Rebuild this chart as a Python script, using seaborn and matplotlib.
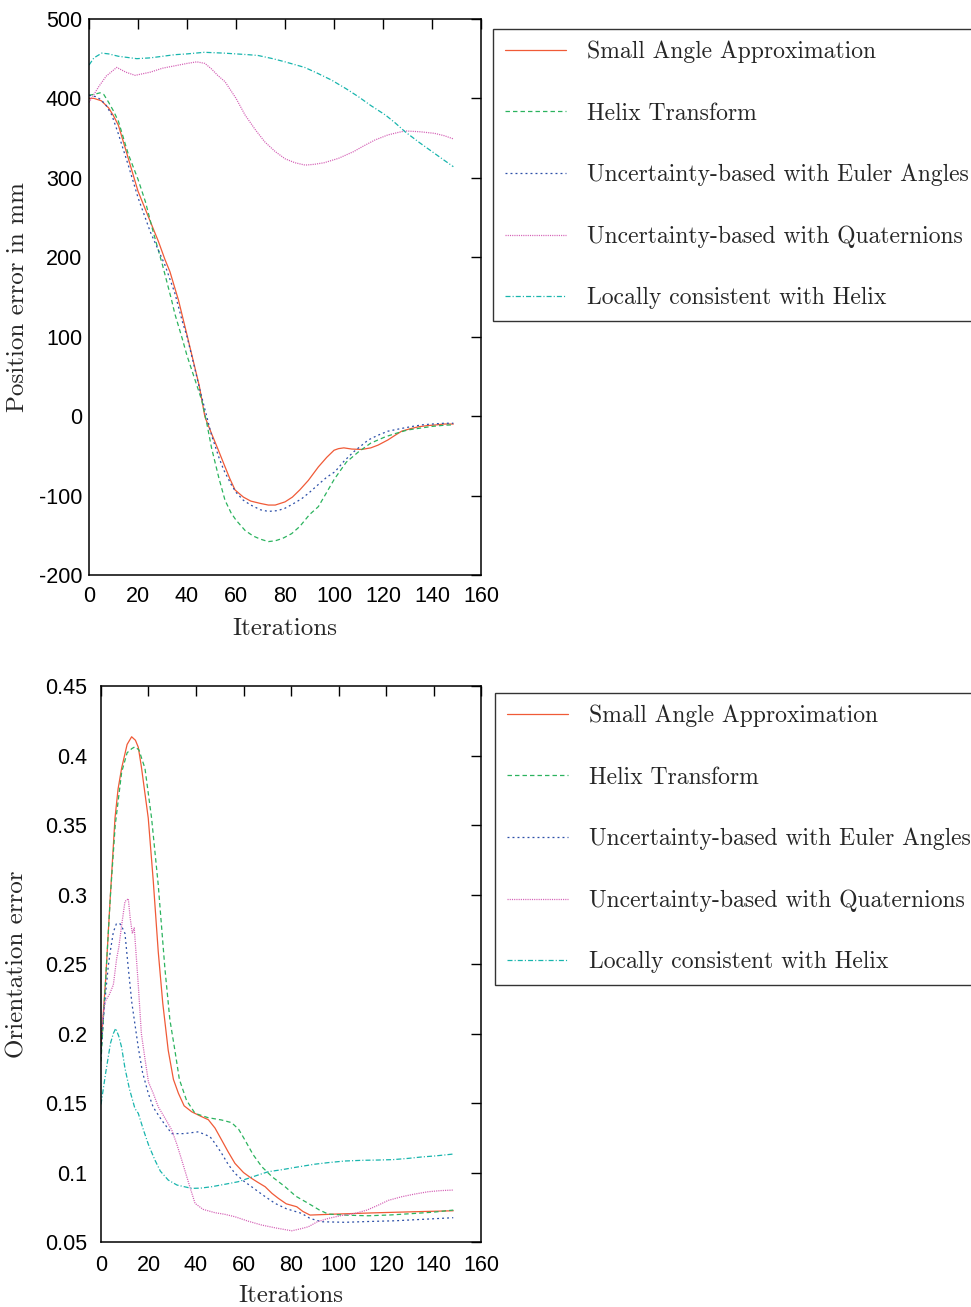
import matplotlib
matplotlib.use("Agg")
import matplotlib.pyplot as plt
from matplotlib.ticker import FuncFormatter, MultipleLocator
import seaborn as sns

# ---------------- position error (mm) ----------------
pos_small_x = [0, 2, 5, 8, 10, 12, 15, 20, 25, 28.3, 31, 33, 36.5, 40, 42.5, 45, 47.3, 50, 52.8, 55, 57.5, 59.6, 63, 66, 70, 73.2, 76, 80, 83, 86, 89.5, 93.6, 97, 100, 101.8, 104, 107.2, 111.3, 115, 118, 122, 125, 127.6, 131, 134.4, 138, 142, 145, 148.7]
pos_small_y = [400, 400, 397, 388, 378, 366, 335, 283, 245, 220, 197, 182, 146, 102, 70, 38, -1, -22, -43, -60, -79, -93, -102, -107, -110, -112, -112, -108, -102, -93, -81, -64, -52, -43, -41, -40, -41.5, -42, -40, -36.5, -30, -24, -19, -16, -13.5, -12, -11, -10, -10]

pos_helix_x = [0, 2, 4.5, 6, 8, 10, 12, 16, 20, 23, 26, 30, 33.7, 35, 38, 40, 43, 46, 48, 50, 53, 55.5, 58, 60, 63.7, 67, 70, 73.2, 76, 79, 82.7, 86, 90, 93.6, 97, 100, 101.8, 105, 110, 115, 121, 125, 130, 134.4, 140, 145, 148.7]
pos_helix_y = [404, 405, 407, 405, 395, 384, 371, 330, 298, 270, 234, 190, 146, 129, 98, 76, 48, 20, -8, -40, -78, -106, -122, -131, -144, -151, -155, -158, -157, -154, -148, -139, -124, -114, -96, -80, -72, -58, -45, -34, -26, -22, -17.5, -15.5, -13, -11.5, -11]

pos_euler_x = [0, 3, 5, 7, 9.3, 12, 16, 20, 25, 31, 35, 38, 40, 43, 45, 47, 50, 53, 55, 58, 60, 63, 66, 70, 73.2, 77, 80, 83, 86.8, 90, 94, 97, 100.4, 104, 108, 114, 118, 122, 127.6, 132, 136, 140, 145, 148.7]
pos_euler_y = [404, 402, 398, 391, 379, 355, 316, 275, 232, 190, 155, 120, 100, 62, 36, 12, -24, -52, -68, -86, -96, -106, -112, -118, -120, -119, -116, -111, -104, -96, -85, -77, -70, -57, -45, -30, -24, -19, -15.5, -13, -11, -10, -9, -9]

pos_quat_x = [0, 2, 4, 7, 11.3, 15, 18.8, 25, 30, 35, 40, 44, 47.3, 50, 52.5, 55.5, 60, 63.7, 68, 71.8, 76, 80, 84, 88.2, 92, 96, 101.8, 108, 112, 116.7, 122, 126, 129, 135, 141, 145, 148.7]
pos_quat_y = [395, 405, 415, 428, 439, 433, 429, 433, 438, 441, 444, 446, 444, 437, 429, 421, 400, 379, 360, 345, 333, 324, 319, 316, 317, 319, 324.5, 333, 340, 347.6, 354, 357, 359, 358, 356, 353, 349]

pos_local_x = [0, 2, 5.2, 8, 12, 19.5, 25, 30, 35, 40, 47, 55, 60, 65, 69, 75, 80, 88, 93, 99, 105, 110, 115, 121, 125, 129, 135, 140, 145, 148.7]
pos_local_y = [442, 451, 457, 456, 453, 450, 451, 453, 455, 456, 458, 457, 456, 455, 454, 450, 446, 439, 432, 423, 412, 402, 391, 379, 369, 358, 344, 333, 322, 314]

# ---------------- orientation error ----------------
ori_small_x = [0, 2, 3.8, 5.9, 7.2, 8.7, 11, 12.9, 14.5, 15.7, 17, 19.9, 22, 24.1, 26, 28.3, 30.5, 32.6, 35, 38.2, 42, 45.2, 48, 50.8, 53.5, 56.4, 60, 63.4, 66, 69.1, 72, 74.7, 78, 82.4, 85, 88, 98.5, 116.8, 132, 148.3]
ori_small_y = [0.19, 0.24, 0.295, 0.355, 0.376, 0.391, 0.408, 0.4135, 0.411, 0.406, 0.392, 0.355, 0.31, 0.259, 0.222, 0.188, 0.167, 0.157, 0.148, 0.1437, 0.1405, 0.138, 0.132, 0.1234, 0.115, 0.1066, 0.1, 0.0958, 0.093, 0.0898, 0.085, 0.0814, 0.0775, 0.0754, 0.072, 0.0694, 0.0701, 0.0711, 0.0718, 0.0725]

ori_helix_x = [0, 2, 4, 6, 8.7, 11, 13, 14.3, 16, 17.5, 18.5, 21.3, 24.1, 26.9, 29, 31.2, 33, 36, 39.6, 45, 50.8, 55, 58, 60.6, 64, 67.7, 72, 77.5, 82, 87.3, 92, 95.7, 104, 112.5, 122, 132.2, 140, 148.3]
ori_helix_y = [0.18, 0.24, 0.30, 0.35, 0.388, 0.402, 0.405, 0.4063, 0.404, 0.396, 0.391, 0.355, 0.307, 0.247, 0.21, 0.187, 0.167, 0.152, 0.1426, 0.1395, 0.1378, 0.1359, 0.131, 0.1234, 0.113, 0.1042, 0.097, 0.0898, 0.083, 0.0778, 0.073, 0.0701, 0.0693, 0.0689, 0.0695, 0.0706, 0.0715, 0.073]

ori_euler_x = [0, 1, 2, 3.1, 4, 5.2, 6.5, 8, 9, 10.1, 11.5, 13, 15.7, 17.5, 19.9, 22, 25.5, 29.8, 35, 41, 45.9, 48, 50.8, 53.5, 56.4, 60, 63.4, 68, 73.3, 78, 84.5, 88, 92.9, 102.7, 113, 123.8, 135, 148.3]
ori_euler_y = [0.185, 0.211, 0.23, 0.249, 0.26, 0.273, 0.279, 0.279, 0.276, 0.272, 0.247, 0.222, 0.19, 0.172, 0.157, 0.147, 0.1378, 0.128, 0.128, 0.1293, 0.1258, 0.121, 0.1138, 0.106, 0.0994, 0.094, 0.0898, 0.084, 0.0778, 0.074, 0.0706, 0.067, 0.0646, 0.0642, 0.0648, 0.0653, 0.0663, 0.0675]

ori_quat_x = [0, 1.7, 3.5, 5.2, 6.6, 7.5, 8.7, 10.1, 11.5, 12.3, 13.2, 14, 15.7, 17, 18.5, 20, 22, 24.1, 27, 29.8, 32, 34, 37, 39.6, 43, 48, 52, 56.4, 62, 67.7, 74, 80.3, 84, 87.3, 91, 95.7, 101, 106.9, 112, 116.8, 121, 126.6, 132, 137.8, 143, 148.3]
ori_quat_y = [0.2, 0.223, 0.228, 0.235, 0.254, 0.262, 0.278, 0.295, 0.297, 0.283, 0.272, 0.276, 0.235, 0.2, 0.182, 0.165, 0.157, 0.1473, 0.139, 0.1306, 0.12, 0.109, 0.092, 0.0778, 0.0735, 0.0711, 0.07, 0.0682, 0.065, 0.0622, 0.06, 0.0581, 0.0595, 0.061, 0.0645, 0.067, 0.069, 0.0706, 0.073, 0.0766, 0.08, 0.0826, 0.0845, 0.0862, 0.087, 0.0874]

ori_local_x = [0, 2, 4, 5.2, 6.2, 7.5, 8.7, 10.1, 12, 14.3, 15.7, 18, 20, 22.7, 25, 28.3, 32, 38.2, 42, 46.6, 52, 57.8, 64, 70.4, 76, 81.7, 90, 96, 102.7, 110, 116.8, 123, 129.4, 135, 141, 148.3]
ori_local_y = [0.149, 0.172, 0.193, 0.2, 0.2037, 0.198, 0.19, 0.175, 0.16, 0.146, 0.1426, 0.13, 0.12, 0.109, 0.101, 0.0946, 0.091, 0.0886, 0.0888, 0.0898, 0.0915, 0.0934, 0.097, 0.1006, 0.102, 0.1037, 0.106, 0.1072, 0.1083, 0.1088, 0.109, 0.1093, 0.1102, 0.1112, 0.112, 0.1133]

method_names = [
    "Small Angle Approximation",
    "Helix Transform",
    "Uncertainty-based with Euler Angles",
    "Uncertainty-based with Quaternions",
    "Locally consistent with Helix",
]
pos_tick_labels = [str(v) for v in range(-200, 501, 100)]
iter_ticks = list(range(0, 161, 20))

# ---------------- styling ----------------
sns.set_theme(style="white")
plt.rcParams.update({
    "font.family": ["Liberation Sans", "DejaVu Sans"],
    "axes.unicode_minus": False,
    "lines.scale_dashes": False,
    "axes.linewidth": 1.1,
    "axes.edgecolor": "black",
})

colors = ["#f05a37", "#2bb35e", "#2c4fa8", "#d45fb5", "#18b5ad"]
styles = [
    "-",
    (0, (3.2, 2.2)),
    (0, (1.4, 2.2)),
    (0, (0.8, 0.8)),
    (0, (3.6, 1.5, 0.8, 1.5)),
]
serif = {"family": "cmr10", "size": 18}

fig = plt.figure(figsize=(9.71, 13.07), dpi=100)
ax1 = fig.add_axes([0.0917, 0.5601, 0.4037, 0.4254])
ax2 = fig.add_axes([0.1040, 0.0497, 0.3914, 0.4254])

pos_series = [(pos_small_x, pos_small_y), (pos_helix_x, pos_helix_y),
              (pos_euler_x, pos_euler_y), (pos_quat_x, pos_quat_y),
              (pos_local_x, pos_local_y)]
ori_series = [(ori_small_x, ori_small_y), (ori_helix_x, ori_helix_y),
              (ori_euler_x, ori_euler_y), (ori_quat_x, ori_quat_y),
              (ori_local_x, ori_local_y)]

for ax, series in ((ax1, pos_series), (ax2, ori_series)):
    for (xs, ys), name, c, ls in zip(series, method_names, colors, styles):
        sns.lineplot(x=xs, y=ys, ax=ax, color=c, linestyle=ls, linewidth=0.9,
                     label=name, sort=False, estimator=None)
    ax.get_legend().remove()
    ax.set_xlim(0, 160)
    ax.set_xticks(iter_ticks)
    ax.tick_params(direction="in", top=True, right=True, length=7, width=1,
                   labelsize=15.5, colors="black")
    for s in ax.spines.values():
        s.set_visible(True)
        s.set_color("black")

ax1.set_ylim(-200, 500)
ax1.set_yticks(range(-200, 501, 100))
ax1.set_yticklabels(pos_tick_labels)
ax1.tick_params(axis="y", pad=5)
ax1.tick_params(axis="x", pad=8)

ax2.set_ylim(0.05, 0.45)
ax2.yaxis.set_major_locator(MultipleLocator(0.05))
ax2.yaxis.set_major_formatter(FuncFormatter(lambda v, p: "%g" % round(v, 3)))
ax2.tick_params(axis="y", pad=10)
ax2.tick_params(axis="x", pad=9)

ax1.set_xlabel("Iterations", fontdict=serif)
ax1.set_ylabel("Position error in mm", fontdict=serif)
ax2.set_xlabel("Iterations", fontdict=serif)
ax2.set_ylabel("Orientation error", fontdict=serif)
ax1.xaxis.set_label_coords(0.5, -0.078)
ax1.yaxis.set_label_coords(-0.152, 0.5)
ax2.xaxis.set_label_coords(0.5, -0.077)
ax2.yaxis.set_label_coords(-0.19, 0.5)

legend_kw = dict(loc="upper left", bbox_transform=fig.transFigure,
                 prop={"family": "cmr10", "size": 17}, frameon=True,
                 fancybox=False, framealpha=1, edgecolor="#333333",
                 handlelength=2.6, handletextpad=0.88, labelspacing=1.66,
                 borderpad=0.5, borderaxespad=0)
for ax, anchor in ((ax1, (493 / 971, 1 - 29 / 1307)),
                   (ax2, (495 / 971, 1 - 693 / 1307))):
    handles, labels = ax.get_legend_handles_labels()
    leg = fig.legend(handles, labels, bbox_to_anchor=anchor, **legend_kw)
    leg.get_frame().set_linewidth(1.0)

fig.savefig("out.png", dpi=100)
